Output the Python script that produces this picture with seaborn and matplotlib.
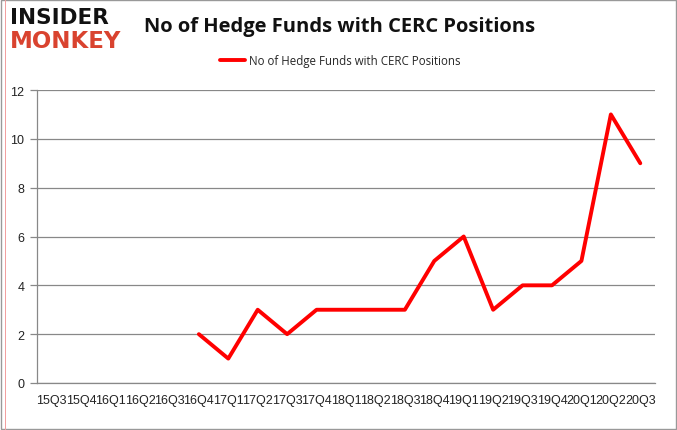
import matplotlib
matplotlib.use("Agg")
import matplotlib.pyplot as plt
import seaborn as sns
import numpy as np
import pandas as pd
from matplotlib.patches import Rectangle
from matplotlib.ticker import FixedLocator, NullFormatter

quarters = ["15Q3", "15Q4", "16Q1", "16Q2", "16Q3", "16Q4", "17Q1", "17Q2", "17Q3", "17Q4",
            "18Q1", "18Q2", "18Q3", "18Q4", "19Q1", "19Q2", "19Q3", "19Q4", "20Q1", "20Q2", "20Q3"]
funds = [np.nan, np.nan, np.nan, np.nan, np.nan, 2, 1, 3, 2, 3,
         3, 3, 3, 5, 6, 3, 4, 4, 5, 11, 9]
series_name = "No of Hedge Funds with CERC Positions"
yticks = [0, 2, 4, 6, 8, 10, 12]

df = pd.DataFrame({"pos": np.arange(len(quarters)), "quarter": quarters, "value": funds})

sns.set_theme(style="white")
plt.rcParams['font.family'] = ['Open Sans', 'DejaVu Sans']

fig = plt.figure(figsize=(6.77, 4.31), dpi=100)
ax = fig.add_axes([37/677, 1-384/431, (655-37)/677, (384-91)/431])

sns.lineplot(data=df.dropna(), x="pos", y="value", ax=ax, color="#FF0000", linewidth=2.8,
             label=series_name, legend=False)

tick_font = dict(family=["Liberation Sans", "DejaVu Sans"], size=9, color="#222222")
ax.set_xlim(-0.5, len(quarters) - 0.5)
ax.set_ylim(0, 12)
ax.set_yticks(yticks)
ax.set_yticklabels([str(v) for v in yticks], **tick_font)
ax.yaxis.grid(True, color="#888888", linewidth=0.9)
ax.set_axisbelow(True)

ax.set_xticks(np.arange(len(quarters)))
ax.set_xticklabels(quarters, **tick_font)
ax.tick_params(axis="x", which="major", length=0, pad=8)
ax.xaxis.set_minor_locator(FixedLocator(np.arange(-0.5, len(quarters), 1.0)))
ax.xaxis.set_minor_formatter(NullFormatter())
ax.tick_params(axis="x", which="minor", length=5, color="#888888", width=0.9)
ax.tick_params(axis="y", which="major", length=5, color="#888888", width=0.9, pad=4, left=True)
ax.set_xlabel("")
ax.set_ylabel("")
for s in ["top", "right"]:
    ax.spines[s].set_visible(False)
for s in ["left", "bottom"]:
    ax.spines[s].set_color("#888888")
    ax.spines[s].set_linewidth(0.9)

# legend
fig.legend(handles=ax.get_lines()[:1], labels=[series_name], loc="center",
           bbox_to_anchor=(340/677, 1-62/431), frameon=False, fontsize=8.3,
           handlelength=2.2, handletextpad=0.3)

# title
fig.text(340/677, 1-27/431, series_name, ha="center", va="center",
         fontsize=14.5, fontweight="bold", color="#111111")

# logo
fig.text(10/677, 1-18/431, "INSIDER", ha="left", va="center", fontsize=15.5,
         fontweight="heavy", color="#111111", family=["DejaVu Sans"])
fig.text(10/677, 1-42/431, "MONKEY", ha="left", va="center", fontsize=16.5,
         fontweight="heavy", color="#D9432F", family=["DejaVu Sans"])

# border
fig.patches.append(Rectangle((0.002, 0.002), 0.996, 0.996, transform=fig.transFigure,
                             fill=False, edgecolor="#999999", linewidth=1))
fig.patches.append(Rectangle((5/677, 0.0), 1/677, 1.0, transform=fig.transFigure,
                             fill=True, facecolor="#F2A0A0", edgecolor="none"))

fig.savefig("out.png", dpi=100)
